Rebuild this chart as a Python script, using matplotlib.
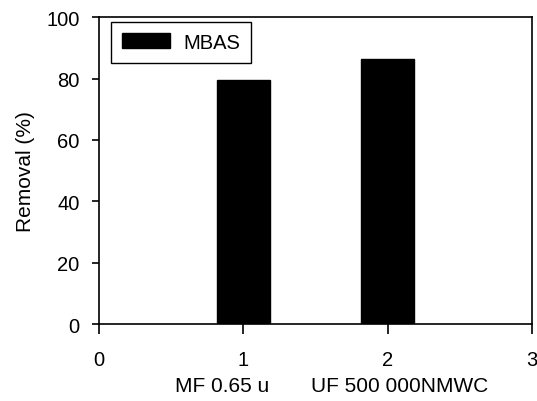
import matplotlib
matplotlib.use("Agg")
import matplotlib.pyplot as plt
from matplotlib.transforms import blended_transform_factory

plt.rcParams['font.family'] = ['Liberation Sans', 'DejaVu Sans']

# removal data
positions = [1, 2]
removal = [79.7, 86.4]
series_name = "MBAS"
cat_labels = ["MF 0.65 u", "UF 500 000NMWC"]
cat_label_x = [0.85, 2.08]
xticks = [0, 1, 2, 3]
yticks = [0, 20, 40, 60, 80, 100]

fig = plt.figure(figsize=(5.37, 4.02), dpi=100)
ax = fig.add_axes([0.1844, 0.1915, 0.8063, 0.763])

ax.bar(positions, removal, width=0.37, color="black", edgecolor="black", label=series_name)

ax.set_xlim(0, 3)
ax.set_ylim(0, 100)
ax.set_xticks(xticks)
ax.set_yticks(yticks)
ax.tick_params(axis="x", direction="out", length=7, width=1.2, pad=12, labelsize=14.5)
ax.tick_params(axis="y", direction="out", length=5, width=1.2, pad=9, labelsize=14.5)
for s in ax.spines.values():
    s.set_linewidth(1.2)

ax.set_ylabel("Removal (%)", fontsize=15, labelpad=8)

trans = blended_transform_factory(ax.transData, ax.transAxes)
for x, lab in zip(cat_label_x, cat_labels):
    ax.text(x, -0.2, lab, transform=trans, ha="center", va="center", fontsize=15)

leg = ax.legend(loc="upper left", bbox_to_anchor=(0.028, 0.986), borderaxespad=0,
                fontsize=14.5, fancybox=False, framealpha=1, edgecolor="black",
                handlelength=2.35, handleheight=0.75, handletextpad=0.67, borderpad=0.55)
leg.get_frame().set_linewidth(1.0)

fig.savefig("out.png", dpi=100)
